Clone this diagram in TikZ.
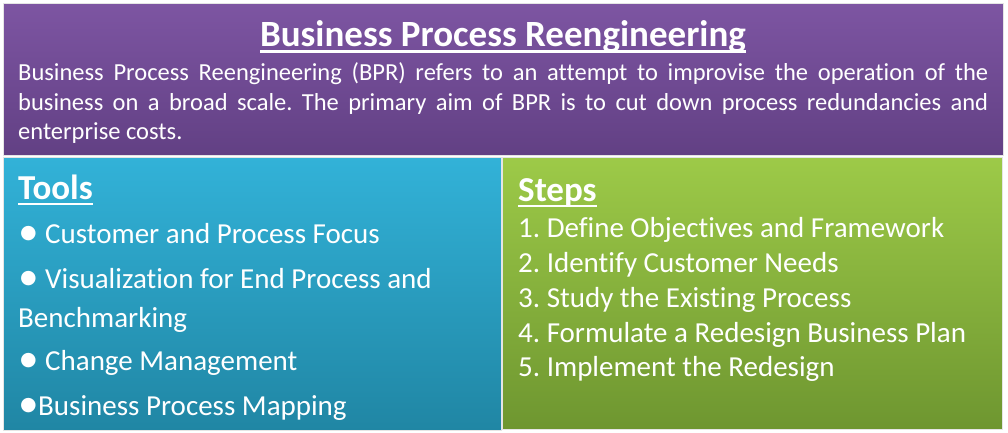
\documentclass[tikz,border=0pt]{standalone}
\usepackage{fontspec}
\setmainfont{Carlito}[Ligatures={NoCommon}]
\newfontfamily\symfont{DejaVu Sans}
\usepackage{xcolor}
\definecolor{bprpurpletop}{RGB}{125,85,162}
\definecolor{bprpurplebot}{RGB}{98,64,132}
\definecolor{toolsbluetop}{RGB}{50,178,216}
\definecolor{toolsbluebot}{RGB}{32,134,164}
\definecolor{stepsgreentop}{RGB}{157,202,72}
\definecolor{stepsgreenbot}{RGB}{110,150,48}
\frenchspacing
\newsavebox{\undlbox}
\newcommand{\undl}[1]{\sbox{\undlbox}{#1}\rlap{\rule[-6pt]{\wd\undlbox}{2.5pt}}\usebox{\undlbox}}
\newcommand{\bul}[1]{\makebox[#1][l]{\raisebox{4.5pt}{\symfont\fontsize{19}{19}\selectfont ●}}}

\begin{document}
\begin{tikzpicture}[x=1pt,y=-1pt,
    panel/.style={draw=white!80!gray,line width=0.8pt,inner sep=0,anchor=north west},
    head/.style={text=white,inner sep=0,anchor=base,font=\bfseries\fontsize{37}{44}\selectfont},
    subhead/.style={text=white,inner sep=0,anchor=base west,font=\bfseries\fontsize{35}{42}\selectfont},
    body/.style={text=white,inner sep=0,font=\fontsize{24.5}{29.5}\selectfont},
    item/.style={text=white,inner sep=0,anchor=base west,font=\fontsize{29}{35}\selectfont}]
    \useasboundingbox (0,0) rectangle (1008,433);

    \node[panel,top color=bprpurpletop,bottom color=bprpurplebot,minimum width=1000pt,minimum height=152pt] (bpr) at (3,3) {};
    \node[panel,top color=toolsbluetop,bottom color=toolsbluebot,minimum width=498pt,minimum height=273pt] (tools) at (3,157) {};
    \node[panel,top color=stepsgreentop,bottom color=stepsgreenbot,minimum width=500pt,minimum height=272pt] (steps) at (502,157) {};

    \node[head] (title) at (503,47) {\undl{Business Process Reengineering}};
    \node[body,anchor=north west,text width=970pt,align=justify] (intro) at (18,60) {\strut Business Process Reengineering (BPR) refers to an attempt to improvise the operation of the\linebreak business on a broad scale. The primary aim of BPR is to cut down process redundancies and\linebreak enterprise costs.};

    % tools
    \node[subhead] (toolshead) at (18,199) {\undl{Tools}};
    \node[item] (tool1) at (20,243) {\bul{25pt}Customer and Process Focus};
    \node[item] (tool2) at (20,288) {\bul{25pt}Visualization for End Process and};
    \node[item] (tool2b) at (18,327) {Benchmarking};
    \node[item] (tool3) at (20,370) {\bul{25pt}Change Management};
    \node[item] (tool4) at (20,415) {\bul{18pt}Business Process Mapping};

    % steps
    \node[subhead] (stepshead) at (518,201) {\undl{Steps}};
    \foreach \s [count=\i] in {Define Objectives and Framework,Identify Customer Needs,Study the Existing Process,Formulate a Redesign Business Plan,Implement the Redesign}
        \node[item] (step\i) at (518,{203+34.75*\i}) {\i. \s};
\end{tikzpicture}
\end{document}
